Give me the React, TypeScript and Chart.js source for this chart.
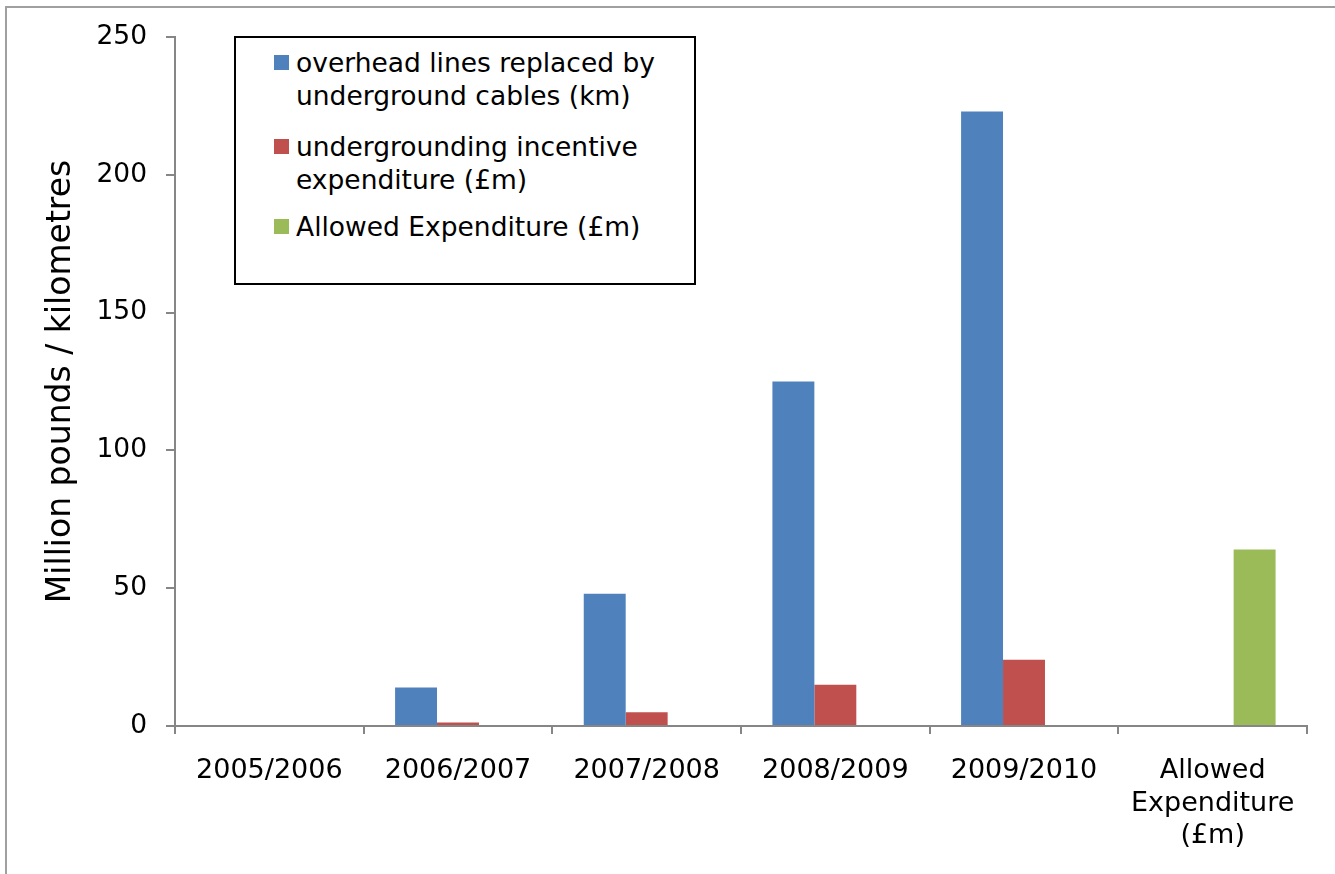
import React, { useEffect, useRef } from "react";
import { Chart, registerables } from "chart.js";

Chart.register(...registerables);

const categories: (string | string[])[] = [
  "2005/2006",
  "2006/2007",
  "2007/2008",
  "2008/2009",
  "2009/2010",
  ["Allowed", "Expenditure", "(£m)"],
];
const overheadKm: (number | null)[] = [0, 14, 48, 125, 223, null];
const incentiveSpend: (number | null)[] = [0, 1.3, 5, 15, 24, null];
const allowedSpend: (number | null)[] = [null, null, null, null, null, 64];
const yTicks = [0, 50, 100, 150, 200, 250];

const seriesNames = [
  ["overhead lines replaced by", "underground cables (km)"],
  ["undergrounding incentive", "expenditure (£m)"],
  ["Allowed Expenditure (£m)"],
];
const seriesColors = ["#4F81BD", "#C0504D", "#9BBB59"];

const FONT = "'DejaVu Sans', Verdana, sans-serif";
const AXIS = "#868686";

export default function App() {
  const ref = useRef<HTMLCanvasElement | null>(null);

  useEffect(() => {
    document.body.style.margin = "0";
    if (!ref.current) return;
    const chart = new Chart(ref.current, {
      type: "bar",
      data: {
        labels: categories,
        datasets: [
          { label: seriesNames[0].join(" "), data: overheadKm, backgroundColor: seriesColors[0] },
          { label: seriesNames[1].join(" "), data: incentiveSpend, backgroundColor: seriesColors[1] },
          { label: seriesNames[2].join(" "), data: allowedSpend, backgroundColor: seriesColors[2] },
        ],
      },
      options: {
        animation: false,
        responsive: false,
        maintainAspectRatio: false,
        layout: { padding: { top: 37, right: 28, left: 0, bottom: 0 } },
        datasets: { bar: { categoryPercentage: 0.667, barPercentage: 1, borderWidth: 0 } },
        plugins: {
          legend: { display: false },
          tooltip: { enabled: false },
        },
        scales: {
          x: {
            offset: true,
            grid: {
              offset: true,
              drawOnChartArea: false,
              drawTicks: true,
              tickLength: 8,
              color: AXIS,
              lineWidth: 2,
            },
            border: { display: true, color: AXIS, width: 2 },
            ticks: {
              color: "#000",
              font: { family: FONT, size: 27, lineHeight: 1.2 },
              padding: 21,
              maxRotation: 0,
              autoSkip: false,
            },
            afterFit: (s: any) => {
              s.height = 148;
            },
          },
          y: {
            min: 0,
            max: 250,
            afterBuildTicks: (s: any) => {
              s.ticks = yTicks.map((v) => ({ value: v }));
            },
            grid: {
              drawOnChartArea: false,
              drawTicks: true,
              tickLength: 9,
              color: AXIS,
              lineWidth: 2,
            },
            border: { display: true, color: AXIS, width: 2 },
            ticks: {
              color: "#000",
              font: { family: FONT, size: 26.5 },
              padding: 19,
            },
            title: {
              display: true,
              text: "Million pounds / kilometres",
              color: "#000",
              font: { family: FONT, size: 33 },
              padding: { top: 42, bottom: 0 },
            },
            afterFit: (s: any) => {
              s.width = 175;
            },
          },
        },
      },
    });
    return () => chart.destroy();
  }, []);

  // centre y of each legend item's first line, in legend-inner coordinates
  const itemCentres = [24, 108, 188];
  const LH = 33;

  return (
    <div style={{ position: "absolute", left: 0, top: 0, width: 1335, height: 874, background: "#fff", overflow: "hidden" }}>
      <div
        style={{
          position: "absolute",
          left: 5,
          top: 6,
          width: 1400,
          height: 1000,
          borderLeft: "2px solid #A0A0A0",
          borderTop: "2px solid #A0A0A0",
        }}
      />
      <canvas ref={ref} width={1335} height={874} style={{ position: "absolute", left: 0, top: 0 }} />
      <div
        style={{
          position: "absolute",
          left: 234,
          top: 36,
          width: 458,
          height: 245,
          border: "2px solid #000",
          background: "#fff",
          fontFamily: FONT,
          fontSize: 26.5,
          color: "#000",
        }}
      >
        {seriesNames.map((lines, i) => (
          <React.Fragment key={i}>
            <div
              style={{
                position: "absolute",
                left: 38,
                top: itemCentres[i] - 7.5,
                width: 15,
                height: 15,
                background: seriesColors[i],
              }}
            />
            <div
              style={{
                position: "absolute",
                left: 60,
                top: itemCentres[i] - LH / 2,
                whiteSpace: "nowrap",
                lineHeight: LH + "px",
              }}
            >
              {lines.map((l, j) => (
                <div key={j}>{l}</div>
              ))}
            </div>
          </React.Fragment>
        ))}
      </div>
    </div>
  );
}
